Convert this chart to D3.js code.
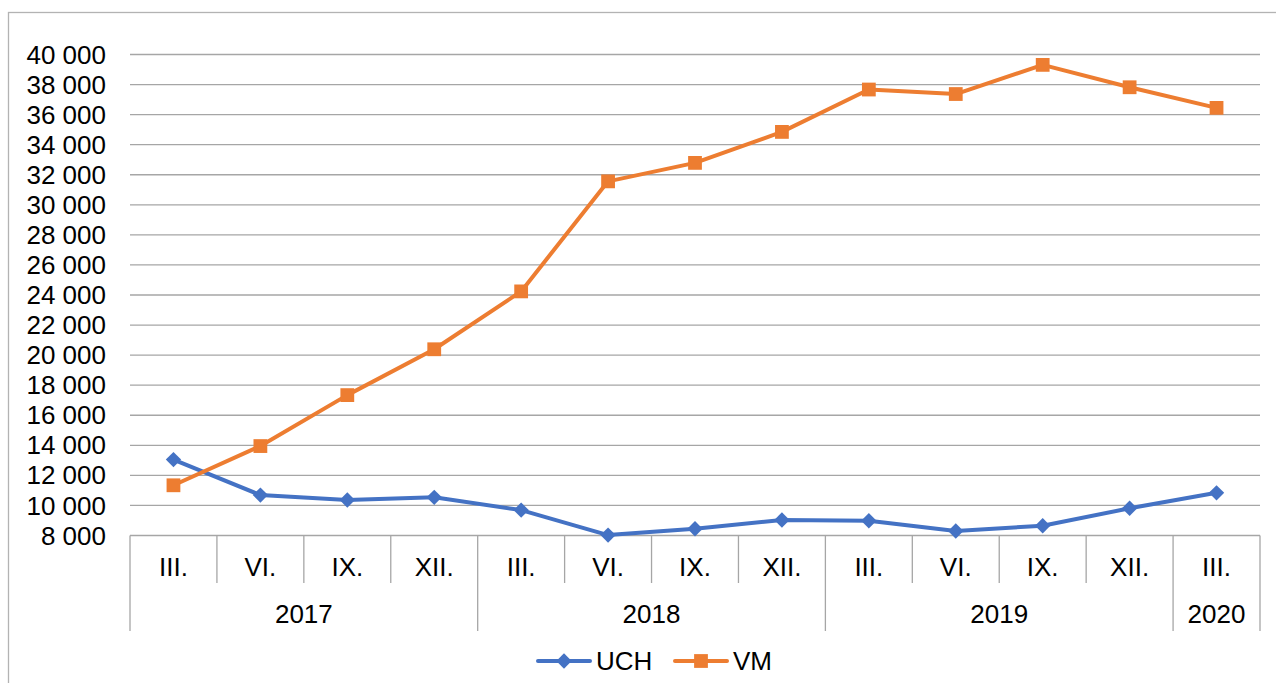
<!DOCTYPE html>
<head>
<meta charset="utf-8">
<script src="https://d3js.org/d3.v7.min.js"></script>
<style>
  body { margin: 0; background: #fff; font-family: "Liberation Sans", Arial, sans-serif; }
  .grid line { stroke: #a6a6a6; stroke-width: 1.3px; }
  .lbl { font-size: 26px; fill: #000; }
</style>
</head>
<body>
<div id="vis"></div>
<script>
  // data
  var months = ["III.", "VI.", "IX.", "XII.", "III.", "VI.", "IX.", "XII.", "III.", "VI.", "IX.", "XII.", "III."];
  var years = [{name: "2017", from: 0, to: 4}, {name: "2018", from: 4, to: 8}, {name: "2019", from: 8, to: 12}, {name: "2020", from: 12, to: 13}];
  var uch = [13050, 10690, 10360, 10540, 9690, 8030, 8450, 9030, 8980, 8300, 8650, 9810, 10840];
  var vm = [11340, 13950, 17340, 20390, 24240, 31560, 32790, 34850, 37670, 37370, 39310, 37820, 36450];
  var yTicks = d3.range(8000, 40001, 2000);

  var W = 1276, H = 683;
  var plotL = 130, plotR = 1260, plotT = 54.5, plotB = 535.5;

  var svg = d3.select("#vis").append("svg")
      .attr("width", W).attr("height", H);

  // outer frame
  svg.append("rect")
      .attr("x", 8.5).attr("y", 12.5)
      .attr("width", W).attr("height", H)
      .attr("fill", "none").attr("stroke", "#b3b3b3").attr("stroke-width", 1.3);

  var x = d3.scaleBand().domain(d3.range(months.length)).range([plotL, plotR]);
  var y = d3.scaleLinear().domain([8000, 40000]).range([plotB, plotT]);
  var fmt = function(v) { return d3.format(",")(v).replace(",", " "); };

  // gridlines
  var grid = svg.append("g").attr("class", "grid");
  grid.selectAll("line").data(yTicks).enter().append("line")
      .attr("x1", plotL).attr("x2", plotR)
      .attr("y1", function(d) { return y(d); })
      .attr("y2", function(d) { return y(d); });

  svg.selectAll(".ytick").data(yTicks).enter().append("text")
      .attr("class", "lbl ytick")
      .attr("x", 106).attr("y", function(d) { return y(d); })
      .attr("dy", "0.35em").attr("text-anchor", "end")
      .text(fmt);

  // category axis: month ticks, year separators
  var ax = svg.append("g").attr("class", "grid");
  d3.range(months.length + 1).forEach(function(i) {
      var xx = i < months.length ? x(i) : plotR;
      var isYear = years.some(function(yr) { return yr.from === i || yr.to === i; });
      ax.append("line")
          .attr("x1", xx).attr("x2", xx)
          .attr("y1", plotB).attr("y2", isYear ? 631 : 583);
  });

  svg.selectAll(".mlab").data(months).enter().append("text")
      .attr("class", "lbl mlab")
      .attr("x", function(d, i) { return x(i) + x.bandwidth() / 2; })
      .attr("y", 567).attr("dy", "0.35em").attr("text-anchor", "middle")
      .text(function(d) { return d; });

  svg.selectAll(".ylab").data(years).enter().append("text")
      .attr("class", "lbl ylab")
      .attr("x", function(d) { return (x(d.from) + (d.to < months.length ? x(d.to) : plotR)) / 2; })
      .attr("y", 614).attr("dy", "0.35em").attr("text-anchor", "middle")
      .text(function(d) { return d.name; });

  var cx = function(d, i) { return x(i) + x.bandwidth() / 2; };
  var line = d3.line().x(cx).y(function(d) { return y(d); });

  var diamond = d3.symbol().type(d3.symbolDiamond2).size(150);
  var square = d3.symbol().type(d3.symbolSquare).size(190);

  function drawSeries(data, color, sym) {
      svg.append("path").datum(data)
          .attr("d", line).attr("fill", "none")
          .attr("stroke", color).attr("stroke-width", 4)
          .attr("stroke-linejoin", "round");
      svg.selectAll(null).data(data).enter().append("path")
          .attr("d", sym)
          .attr("transform", function(d, i) { return "translate(" + cx(d, i) + "," + y(d) + ")"; })
          .attr("fill", color);
  }

  drawSeries(uch, "#4472c4", diamond);
  drawSeries(vm, "#ed7d31", square);

  // legend
  var legend = [{name: "UCH", color: "#4472c4", sym: diamond, x0: 538},
                {name: "VM", color: "#ed7d31", sym: square, x0: 675}];
  var lg = svg.selectAll(".leg").data(legend).enter().append("g")
      .attr("class", "leg")
      .attr("transform", function(d) { return "translate(" + d.x0 + ",661)"; });
  lg.append("line").attr("x1", 0).attr("x2", 52)
      .attr("stroke", function(d) { return d.color; }).attr("stroke-width", 4)
      .attr("stroke-linecap", "round");
  lg.append("path")
      .attr("d", function(d) { return d.sym(); })
      .attr("transform", "translate(26,0)")
      .attr("fill", function(d) { return d.color; });
  lg.append("text").attr("class", "lbl")
      .attr("x", 58).attr("dy", "0.35em")
      .text(function(d) { return d.name; });
</script>
</body>
